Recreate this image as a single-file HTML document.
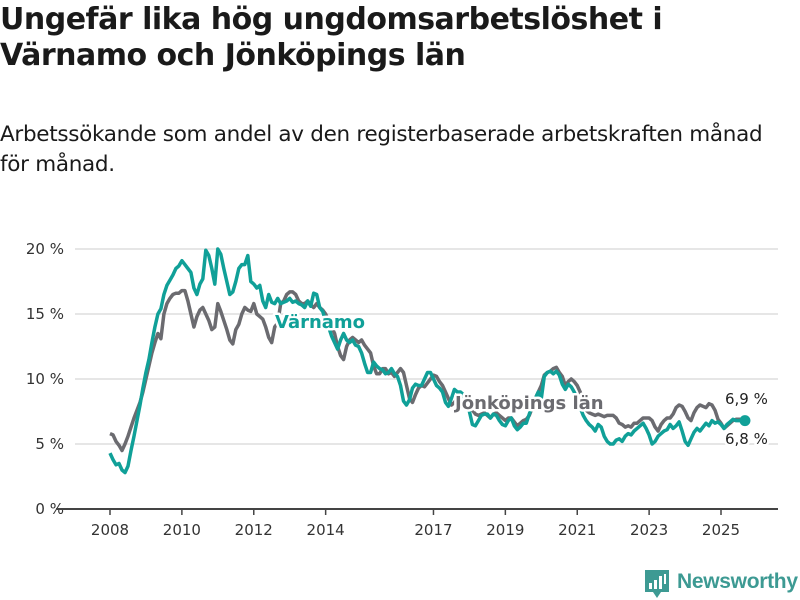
<!DOCTYPE html>
<html><head><meta charset="utf-8"><style>
body{margin:0;background:#fff;width:800px;height:600px;overflow:hidden;font-family:"DejaVu Sans","Liberation Sans",sans-serif;color:#1a1a1a}
h1{position:absolute;left:0;top:2px;margin:0;font-size:30px;line-height:36px;font-weight:bold;letter-spacing:-0.5px}
.sub{position:absolute;left:0;top:120px;margin:0;font-size:21.5px;line-height:30px;width:785px;letter-spacing:-0.3px}
svg{position:absolute;left:0;top:0}
</style></head><body>
<h1>Ungefär lika hög ungdomsarbetslöshet i<br>Värnamo och Jönköpings län</h1>
<p class="sub">Arbetssökande som andel av den registerbaserade arbetskraften månad för månad.</p>
<svg id="chart" width="800" height="600"></svg>
<script>
const yTicks=[0,5,10,15,20];
const yTickLabels=["0 %","5 %","10 %","15 %","20 %"];
const xTicks=[2008,2010,2012,2014,2017,2019,2021,2023,2025];
const startYear=2008;
const jonkoping=[
5.8,5.7,5.2,4.9,4.5,5.0,5.6,6.3,7.0,7.6,8.2,9.0,
10.0,11.0,12.0,12.8,13.5,13.1,15.0,15.8,16.2,16.5,16.6,16.6,
16.8,16.8,16.0,15.0,14.0,14.8,15.3,15.5,15.0,14.5,13.8,14.0,
15.8,15.2,14.5,13.8,13.0,12.7,13.8,14.2,15.0,15.5,15.3,15.2,
15.8,15.0,14.8,14.6,14.0,13.2,12.8,14.0,14.3,15.8,16.0,16.5,
16.7,16.7,16.5,16.0,15.8,15.8,16.0,15.7,15.5,15.8,15.5,15.3,
15.0,14.5,14.0,13.5,12.5,11.8,11.5,12.5,13.0,13.2,13.0,12.8,
13.0,12.6,12.3,12.0,11.0,10.4,10.4,10.8,10.8,10.4,10.5,10.2,
10.5,10.8,10.5,9.5,8.5,8.2,8.8,9.3,9.5,9.4,9.7,10.0,
10.3,10.2,9.8,9.5,9.0,8.5,8.0,8.2,8.5,8.8,8.8,8.5,
8.0,7.6,7.3,7.2,7.3,7.4,7.2,7.0,7.3,7.4,7.2,7.0,
6.8,7.0,7.0,6.7,6.4,6.6,6.8,6.9,7.2,7.8,8.5,9.0,
9.5,10.3,10.5,10.6,10.8,10.9,10.5,10.2,9.5,9.8,10.0,9.8,
9.5,9.0,8.2,7.6,7.4,7.3,7.2,7.3,7.2,7.1,7.2,7.2,
7.2,7.0,6.6,6.5,6.3,6.4,6.3,6.6,6.6,6.8,7.0,7.0,
7.0,6.8,6.3,6.0,6.5,6.8,7.0,7.0,7.3,7.8,8.0,7.9,
7.5,7.0,6.8,7.4,7.8,8.0,7.9,7.8,8.1,8.0,7.6,6.9,
6.6,6.2,6.4,6.6,6.8,6.9,6.9,6.9,6.9];
const varnamo=[
4.3,3.8,3.4,3.5,3.0,2.8,3.3,4.5,5.6,6.8,8.0,9.3,
10.5,11.5,12.8,14.0,15.0,15.4,16.5,17.2,17.6,18.0,18.5,18.7,
19.1,18.8,18.5,18.2,17.0,16.5,17.3,17.7,19.9,19.5,18.5,17.3,
20.0,19.6,18.5,17.5,16.5,16.7,17.5,18.5,18.8,18.8,19.5,17.5,
17.3,17.0,17.2,16.0,15.5,16.5,15.9,15.8,16.2,15.8,15.9,16.0,
16.2,15.9,16.0,15.8,15.7,15.5,16.0,15.6,16.6,16.5,15.5,15.2,
14.5,14.0,13.3,12.8,12.3,13.0,13.5,13.0,12.8,13.0,12.6,12.5,
12.0,11.2,10.5,10.5,11.3,11.0,10.8,10.7,10.4,10.5,10.8,10.4,
10.2,9.5,8.3,8.0,8.4,9.3,9.6,9.5,9.5,10.0,10.5,10.5,
10.0,9.5,9.3,9.0,8.2,7.9,8.5,9.2,9.0,9.0,8.8,8.0,
7.5,6.5,6.4,6.8,7.2,7.3,7.3,7.0,7.3,7.2,6.8,6.5,
6.4,6.8,7.0,6.4,6.1,6.3,6.6,6.6,7.3,8.0,8.5,9.0,
8.5,10.2,10.5,10.6,10.4,10.6,10.3,9.6,9.2,9.6,9.4,9.0,
8.5,7.8,7.2,6.8,6.5,6.3,6.0,6.5,6.3,5.6,5.2,5.0,
5.0,5.3,5.4,5.2,5.6,5.8,5.7,6.0,6.2,6.4,6.6,6.2,
5.7,5.0,5.2,5.6,5.8,6.0,6.1,6.5,6.2,6.4,6.7,6.0,
5.2,4.9,5.4,5.9,6.2,6.0,6.3,6.6,6.4,6.8,6.6,6.7,
6.5,6.2,6.5,6.7,6.9,6.8,6.8,6.8,6.8];
const lastLabels=["6,9 %","6,8 %"];

const svg=document.getElementById('chart');
const NS='http://www.w3.org/2000/svg';
const x=m=>110+m*(611/204);
const xy=yr=>x((yr-startYear)*12);
const y=v=>509-v*13;
function mk(tag,attrs){const e=document.createElementNS(NS,tag);for(const k in attrs)e.setAttribute(k,attrs[k]);svg.appendChild(e);return e;}
yTicks.forEach((t,i)=>{
  const g=mk('line',{x1:75,x2:778,y1:y(t),y2:y(t),stroke:'#dddddd','stroke-width':1.5});
  
  
  const l=mk('text',{x:64,y:y(t)+5,'text-anchor':'end','font-size':15,fill:'#333'});
  l.textContent=yTickLabels[i];
  
  
});
const ax=mk('line',{x1:56,x2:778,y1:y(0),y2:y(0),stroke:'#444','stroke-width':2});


xTicks.forEach(t=>{
  const tk=mk('line',{x1:xy(t),x2:xy(t),y1:y(0),y2:y(0)+6,stroke:'#444','stroke-width':1.5});
  
  
  const l=mk('text',{x:xy(t),y:y(0)+26,'text-anchor':'middle','font-size':15,fill:'#333'});
  l.textContent=t;
  
  
});
function line(data,color,name){
  const d=data.map((v,i)=>(i?'L':'M')+x(i).toFixed(1)+','+y(v).toFixed(1)).join('');
  const p=mk('path',{d:d,fill:'none',stroke:color,'stroke-width':3.5,'stroke-linejoin':'round'});
  
  
}
line(jonkoping,'#6b6b70','jonkoping-line');
line(varnamo,'#10a098','varnamo-line');
const n=varnamo.length-1;
const d1=mk('circle',{cx:x(n),cy:y(varnamo[n]),r:5.5,fill:'#10a098'});


function lab(txt,xx,yy,color,name,size,weight){
  const t=mk('text',{x:xx,y:yy,'font-size':size,'font-weight':weight,fill:color,stroke:'#fff','stroke-width':5,'paint-order':'stroke','stroke-linejoin':'round'});
  t.textContent=txt;
  
  
}
lab('Värnamo',275,328,'#10a098','varnamo-series-label',18,'bold');
lab('Jönköpings län',455,409,'#6b6b70','jonkoping-series-label',18,'bold');
lab(lastLabels[0],725,404,'#222','jonkoping-last-value',15,'normal');
lab(lastLabels[1],725,444,'#222','varnamo-last-value',15,'normal');
</script>
<div style="position:absolute;left:645px;top:570px;width:152px;height:28px">
<svg width="26" height="30" style="position:absolute;left:0;top:0"><path d="M0 0H24V22H16L12 28L8 22H0Z" fill="#3d9a93"/><rect x="4" y="13" width="3" height="6" fill="#fff"/><rect x="9" y="10" width="3" height="9" fill="#fff"/><rect x="14" y="6" width="3" height="13" fill="#fff"/><rect x="19" y="4" width="2" height="10" fill="#fff"/></svg>
<span style="position:absolute;left:32px;top:0;font-family:'Liberation Sans',sans-serif;font-size:21px;font-weight:bold;color:#3d9a93;letter-spacing:-0.3px">Newsworthy</span>
</div>
</body></html>
